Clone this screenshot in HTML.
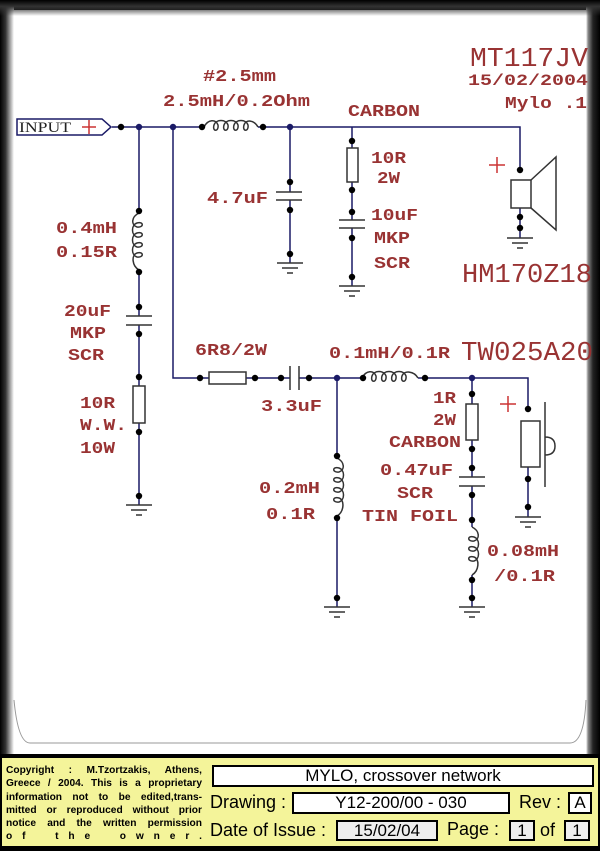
<!DOCTYPE html>
<html><head><meta charset="utf-8"><style>
html,body{margin:0;padding:0;background:#000;}
#w{position:relative;width:600px;height:851px;overflow:hidden;background:#000;}
#panel{position:absolute;left:8px;top:10px;width:582px;height:744px;background:#fff;}
#lg{position:absolute;left:0;top:0;width:14px;height:754px;background:linear-gradient(to right,#000,#333 40%,#bbb 80%,#fff);}
#rg{position:absolute;right:0;top:0;width:14px;height:754px;background:linear-gradient(to left,#000,#222 50%,#888 85%,#fff);}
#tg{position:absolute;left:0;top:0;width:600px;height:16px;background:linear-gradient(to bottom,#000,#333 40%,rgba(255,255,255,0));}
#yel{position:absolute;left:2px;top:758px;width:596px;height:88px;background:#f4f49a;}
.cp{position:absolute;left:6px;top:764px;width:196px;font:bold 10.2px/13.3px "Liberation Sans",sans-serif;color:#000;}
.cp div{text-align:justify;text-align-last:justify;white-space:nowrap;height:13.3px;}
.bx{position:absolute;background:#fff;border:2px solid #000;font:16px "Liberation Sans",sans-serif;text-align:center;color:#000;box-sizing:border-box;}
.lb{position:absolute;font:18px "Liberation Sans",sans-serif;color:#000;}
svg text{font-family:"Liberation Mono",monospace;font-weight:bold;fill:#993333;font-size:17px;}
svg text.big{font-size:27px;font-weight:normal;}
svg text.med{font-size:16px;}
</style></head><body><div id="w">
<div id="panel"></div><div id="lg"></div><div id="rg"></div><div id="tg"></div>
<svg width="600" height="851" style="position:absolute;left:0;top:0">
<path d="M14 700 Q18 743 30 743 L570 743 Q584 743 586 700" fill="none" stroke="#999" stroke-width="1"/>
<g stroke="#1a1a66" stroke-width="1.5" fill="none">
<path d="M112 127 H204 M258 127 H520 V170"/>
<path d="M139 127 V213 M139 270 V316 M139 325 V505"/>
<path d="M173 127 V378 H290 M299 378 H362 M418 378 H528 V409"/>
<path d="M290 127 V192 M290 200 V263"/>
<path d="M352 127 V220 M352 228 V286"/>
<path d="M337 378 V458 M337 516 V607"/>
<path d="M472 378 V477 M472 486 V527 M472 575 V607"/>
<path d="M520 208 V238"/>
<path d="M528 467 V517"/>
</g>
<g stroke="#333" stroke-width="1.5" fill="none">
<path d="M204 127 C208 119 216 119 218 125 C219 132 212 132 214 125 C216 119 226 119 228 125 C229 132 222 132 224 125 C226 119 236 119 238 125 C239 132 232 132 234 125 C236 119 246 119 248 125 C249 132 242 132 244 125 C246 119 254 120 258 127"/>
<path d="M362 378 C366 370 374 370 376 376 C377 383 370 383 372 376 C374 370 384 370 386 376 C387 383 380 383 382 376 C384 370 394 370 396 376 C397 383 390 383 392 376 C394 370 404 370 406 376 C407 383 400 383 402 376 C404 370 414 371 418 378"/>
<path d="M139 213 C131 217 131 225 137 227 C144 228 144 221 137 223 C131 225 131 235 137 237 C144 238 144 231 137 233 C131 235 131 245 137 247 C144 248 144 241 137 243 C131 245 131 255 137 257 C144 258 144 251 137 253 C131 255 132 266 139 270"/>
<path d="M337 458 C345 462 345 470 339 472 C332 473 332 466 339 468 C345 470 345 480 339 482 C332 483 332 476 339 478 C345 480 345 490 339 492 C332 493 332 486 339 488 C345 490 345 500 339 502 C332 503 332 496 339 498 C345 500 344 512 337 516"/>
<path d="M472 527 C480 531 480 539 474 541 C467 542 467 535 474 537 C480 539 480 549 474 551 C467 552 467 545 474 547 C480 549 480 559 474 561 C467 562 467 555 474 557 C480 559 479 571 472 575"/>
<rect x="347" y="148" width="11" height="34" fill="#fff"/>
<rect x="133" y="386" width="12" height="37" fill="#fff"/>
<rect x="209" y="372" width="37" height="12" fill="#fff"/>
<rect x="466" y="404" width="12" height="36" fill="#fff"/>
<path d="M276 192 h26 M276 200 h26"/>
<path d="M339 220 h26 M339 228 h26"/>
<path d="M126 316 h26 M126 325 h26"/>
<path d="M459 477 h26 M459 486 h26"/>
<path d="M290 366 v24 M299 366 v24"/>
<rect x="511" y="180" width="20" height="28" fill="#fff"/>
<path d="M531 180 L556 157 V230 L531 208"/>
<rect x="521" y="421" width="19" height="46" fill="#fff"/>
<path d="M545 402 V487 M545 437 Q555 437 555 446 Q555 455 545 455"/>
<path d="M507 238 h26 M512 243 h16 M517 248 h6"/>
<path d="M277 263 h26 M282 268 h16 M287 273 h6"/>
<path d="M339 286 h26 M344 291 h16 M349 296 h6"/>
<path d="M126 505 h26 M131 510 h16 M136 515 h6"/>
<path d="M324 607 h26 M329 612 h16 M334 617 h6"/>
<path d="M459 607 h26 M464 612 h16 M469 617 h6"/>
<path d="M515 517 h26 M520 522 h16 M525 527 h6"/>
</g>
<path d="M17 119 H102 L111 127 L102 135 H17 Z" fill="#fff" stroke="#1a1a66" stroke-width="1.5"/>
<text x="19" y="132" style="fill:#222;font-family:'Liberation Serif',serif;font-size:15px;font-weight:normal" textLength="52" lengthAdjust="spacingAndGlyphs">INPUT</text>
<path d="M82 127 h14 M89 120 v14" stroke="#c33" stroke-width="1.5"/>
<path d="M489 165 h16 M497 157 v16" stroke="#c33" stroke-width="1.5"/>
<path d="M500 404 h16 M508 396 v16" stroke="#c33" stroke-width="1.5"/>
<g fill="#000">
<circle cx="121" cy="127" r="3.2"/><circle cx="202" cy="127" r="3.2"/><circle cx="263" cy="127" r="3.2"/>
<circle cx="520" cy="170" r="3.2"/><circle cx="520" cy="217" r="3.2"/><circle cx="520" cy="228" r="3.2"/>
<circle cx="290" cy="182" r="3.2"/><circle cx="290" cy="210" r="3.2"/><circle cx="290" cy="254" r="3.2"/>
<circle cx="352" cy="141" r="3.2"/><circle cx="352" cy="190" r="3.2"/><circle cx="352" cy="212" r="3.2"/><circle cx="352" cy="238" r="3.2"/><circle cx="352" cy="277" r="3.2"/>
<circle cx="139" cy="211" r="3.2"/><circle cx="139" cy="272" r="3.2"/><circle cx="139" cy="307" r="3.2"/><circle cx="139" cy="334" r="3.2"/><circle cx="139" cy="377" r="3.2"/><circle cx="139" cy="432" r="3.2"/><circle cx="139" cy="496" r="3.2"/>
<circle cx="200" cy="378" r="3.2"/><circle cx="255" cy="378" r="3.2"/><circle cx="281" cy="378" r="3.2"/><circle cx="309" cy="378" r="3.2"/><circle cx="363" cy="378" r="3.2"/><circle cx="425" cy="378" r="3.2"/>
<circle cx="337" cy="456" r="3.2"/><circle cx="337" cy="518" r="3.2"/><circle cx="337" cy="598" r="3.2"/>
<circle cx="472" cy="394" r="3.2"/><circle cx="472" cy="449" r="3.2"/><circle cx="472" cy="468" r="3.2"/><circle cx="472" cy="495" r="3.2"/><circle cx="472" cy="520" r="3.2"/><circle cx="472" cy="580" r="3.2"/><circle cx="472" cy="598" r="3.2"/>
<circle cx="528" cy="409" r="3.2"/><circle cx="528" cy="479" r="3.2"/><circle cx="528" cy="507" r="3.2"/>
</g>
<g fill="#1a1a66">
<circle cx="139" cy="127" r="3.2"/><circle cx="173" cy="127" r="3.2"/><circle cx="290" cy="127" r="3.2"/><circle cx="337" cy="378" r="3.2"/><circle cx="472" cy="378" r="3.2"/>
</g>
<g>
<text x="203" y="81" textLength="73" lengthAdjust="spacingAndGlyphs">#2.5mm</text>
<text x="163" y="106" textLength="147" lengthAdjust="spacingAndGlyphs">2.5mH/0.2Ohm</text>
<text x="348" y="116" textLength="72" lengthAdjust="spacingAndGlyphs">CARBON</text>
<text x="207" y="203" textLength="61" lengthAdjust="spacingAndGlyphs">4.7uF</text>
<text x="371" y="163" textLength="35" lengthAdjust="spacingAndGlyphs">10R</text>
<text x="377" y="183" textLength="23" lengthAdjust="spacingAndGlyphs">2W</text>
<text x="371" y="220" textLength="47" lengthAdjust="spacingAndGlyphs">10uF</text>
<text x="374" y="243" textLength="36" lengthAdjust="spacingAndGlyphs">MKP</text>
<text x="374" y="268" textLength="36" lengthAdjust="spacingAndGlyphs">SCR</text>
<text x="56" y="233" textLength="61" lengthAdjust="spacingAndGlyphs">0.4mH</text>
<text x="56" y="257" textLength="61" lengthAdjust="spacingAndGlyphs">0.15R</text>
<text x="64" y="316" textLength="47" lengthAdjust="spacingAndGlyphs">20uF</text>
<text x="70" y="338" textLength="36" lengthAdjust="spacingAndGlyphs">MKP</text>
<text x="68" y="360" textLength="36" lengthAdjust="spacingAndGlyphs">SCR</text>
<text x="80" y="408" textLength="35" lengthAdjust="spacingAndGlyphs">10R</text>
<text x="80" y="430" textLength="47" lengthAdjust="spacingAndGlyphs">W.W.</text>
<text x="80" y="453" textLength="35" lengthAdjust="spacingAndGlyphs">10W</text>
<text x="195" y="355" textLength="72" lengthAdjust="spacingAndGlyphs">6R8/2W</text>
<text x="261" y="411" textLength="61" lengthAdjust="spacingAndGlyphs">3.3uF</text>
<text x="329" y="358" textLength="121" lengthAdjust="spacingAndGlyphs">0.1mH/0.1R</text>
<text class="big" x="461" y="360" textLength="132" lengthAdjust="spacingAndGlyphs">TW025A20</text>
<text x="433" y="403" textLength="23" lengthAdjust="spacingAndGlyphs">1R</text>
<text x="433" y="425" textLength="23" lengthAdjust="spacingAndGlyphs">2W</text>
<text x="389" y="447" textLength="72" lengthAdjust="spacingAndGlyphs">CARBON</text>
<text x="380" y="475" textLength="73" lengthAdjust="spacingAndGlyphs">0.47uF</text>
<text x="397" y="498" textLength="36" lengthAdjust="spacingAndGlyphs">SCR</text>
<text x="362" y="521" textLength="96" lengthAdjust="spacingAndGlyphs">TIN FOIL</text>
<text x="259" y="493" textLength="61" lengthAdjust="spacingAndGlyphs">0.2mH</text>
<text x="266" y="519" textLength="49" lengthAdjust="spacingAndGlyphs">0.1R</text>
<text x="487" y="556" textLength="72" lengthAdjust="spacingAndGlyphs">0.08mH</text>
<text x="494" y="581" textLength="61" lengthAdjust="spacingAndGlyphs">/0.1R</text>
<text class="big" x="470" y="66" textLength="118" lengthAdjust="spacingAndGlyphs">MT117JV</text>
<text class="med" x="468" y="85" textLength="120" lengthAdjust="spacingAndGlyphs">15/02/2004</text>
<text x="505" y="108" textLength="82" lengthAdjust="spacingAndGlyphs">Mylo .1</text>
<text class="big" x="462" y="282" textLength="130" lengthAdjust="spacingAndGlyphs">HM170Z18</text>
</g>
</svg>
<div id="yel"></div>
<div class="cp"><div>Copyright : M.Tzortzakis, Athens,</div><div>Greece / 2004. This is a proprietary</div><div>information not to be edited,trans-</div><div>mitted or reproduced without prior</div><div>notice and the written permission</div><div>o f &nbsp; t h e &nbsp; o w n e r .</div></div>
<div class="bx" style="left:212px;top:765px;width:382px;height:22px;line-height:18px;font-size:17px">MYLO, crossover network</div>
<div class="lb" style="left:210px;top:792px">Drawing :</div>
<div class="bx" style="left:292px;top:792px;width:218px;height:22px;line-height:18px;font-size:17px">Y12-200/00 - 030</div>
<div class="lb" style="left:519px;top:792px">Rev :</div>
<div class="bx" style="left:568px;top:792px;width:24px;height:22px;line-height:18px;font-size:17px">A</div>
<div class="lb" style="left:210px;top:820px">Date of Issue :</div>
<div class="bx" style="left:336px;top:820px;width:102px;height:21px;line-height:17px;font-size:17px;background:#eee">15/02/04</div>
<div class="lb" style="left:447px;top:819px">Page :</div>
<div class="bx" style="left:509px;top:820px;width:26px;height:21px;line-height:17px;font-size:17px;background:#eee">1</div>
<div class="lb" style="left:540px;top:820px">of</div>
<div class="bx" style="left:564px;top:820px;width:26px;height:21px;line-height:17px;font-size:17px;background:#eee">1</div>
</div></body></html>
